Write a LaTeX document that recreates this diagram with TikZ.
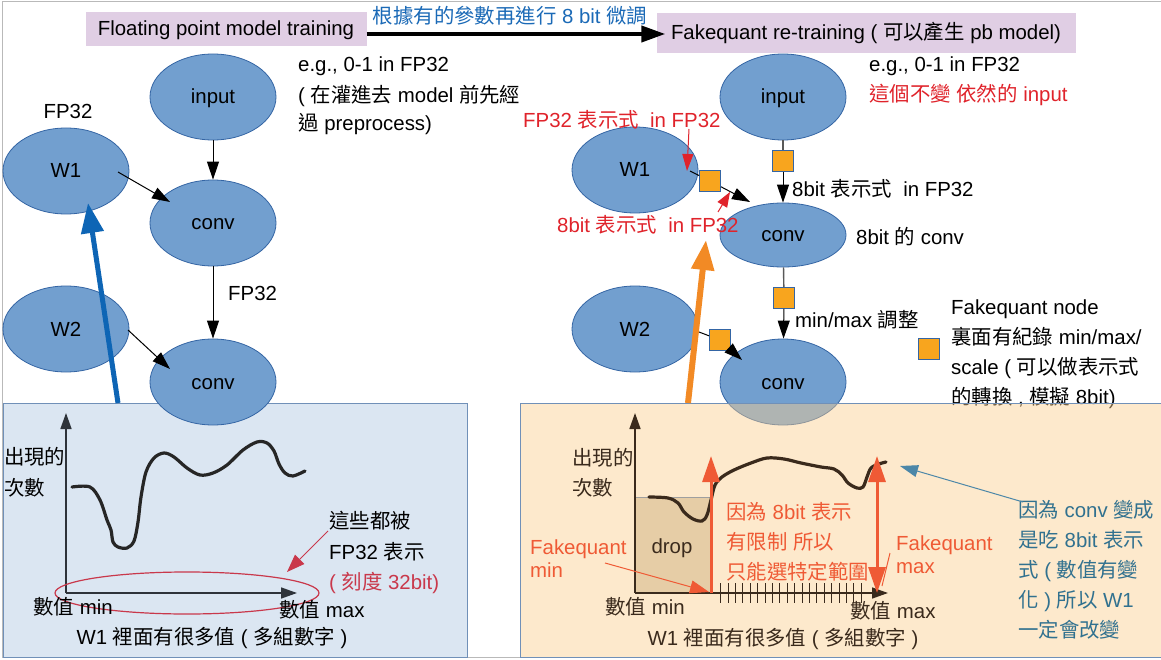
\documentclass[tikz,border=0pt]{standalone}
\usepackage{fontspec}
\setmainfont{Liberation Sans}
\newfontfamily\cjk{Noto Sans CJK TC}
\usetikzlibrary{shapes.geometric,arrows.meta,calc}
\newcommand\zh[1]{{\cjk #1}}
\newcommand\bigtxt{\fontsize{20.4}{30}\selectfont}
\definecolor{elfill}{HTML}{729FCF}
\definecolor{elbd}{HTML}{3465A4}
\definecolor{fqfill}{HTML}{F8A51E}
\definecolor{ttl}{HTML}{E0CEE4}
\definecolor{lblue}{HTML}{1B6AB7}
\definecolor{bluearr}{HTML}{0E65B5}
\definecolor{orarr}{HTML}{F28A25}
\definecolor{redtxt}{HTML}{E0232B}
\definecolor{crimson}{HTML}{C9384B}
\definecolor{coral}{HTML}{EF5A35}
\definecolor{myteal}{HTML}{31718F}
\definecolor{tealarr}{HTML}{4C87A8}
\definecolor{lpanel}{HTML}{DBE6F2}
\definecolor{rpanel}{HTML}{FBCF8F}
\definecolor{pbd}{HTML}{7090B8}
\definecolor{dropc}{HTML}{E6CDA6}
\definecolor{mybrown}{HTML}{3A2A1C}
\definecolor{axgray}{HTML}{2E333A}
\begin{document}
\begin{tikzpicture}[x=1pt,y=-1pt,
  ell/.style={ellipse, draw=elbd, fill=elfill, line width=0.8pt, minimum width=126pt, minimum height=86pt, inner sep=0pt, font=\bigtxt, text height=16pt, text depth=2pt},
  fq/.style={rectangle, draw=elbd, fill=fqfill, line width=0.8pt, minimum size=21pt, inner sep=0pt},
  txt/.style={inner sep=0pt, font=\bigtxt, text height=16pt, text depth=2pt, anchor=west},
  ctxt/.style={txt, anchor=center},
  arr/.style={line width=1pt, -{Triangle[length=18pt,width=12pt]}},
  titlebox/.style={fill=ttl, inner sep=0pt, font=\bigtxt, text height=16pt, text depth=2pt},
]
\useasboundingbox (0,0) rectangle (1161,660);
\fill[white] (0,0) rectangle (1161,660);
\draw[gray!55, line width=1pt] (2,657) -- (2,2) -- (1161,2);
\draw[gray!55, line width=1pt] (2,657) -- (1161,657);

% ---------- left panel (behind) ----------
\node[draw=pbd, fill=lpanel, line width=0.8pt, minimum width=464pt, minimum height=254pt, inner sep=0pt, anchor=north west] (lpan) at (3,403) {};

% ---------- titles ----------
\node[titlebox, minimum width=281pt, minimum height=34pt] (t1) at (226,29) {Floating point model training};
\node[titlebox, minimum width=419pt, minimum height=40pt] (t2) at (866,33) {Fakequant re-training ( \zh{可以產生} pb model)};
\draw[line width=4pt, -{Triangle[length=24pt,width=16pt]}] ($(t1.east)+(0,5)$) -- ($(t2.west)+(9,1)$);
\node[ctxt, text=lblue] (lab) at (510,17) {\zh{根據有的參數再進行} 8 bit \zh{微調}};

% ---------- left graph ----------
\node[ell] (in1) at (213,97) {input};
\node[ell] (W1) at (66,171) {W1};
\node[ell] (conv1) at (213,223) {conv};
\node[ell] (W2) at (66,329) {W2};
\node[ell] (conv2) at (213,382) {conv};
\draw[arr] (in1) -- (conv1);
\draw[arr] (conv1) -- (conv2);
\draw[arr] ($(W1.center)+(52,1)$) -- ($(conv1.center)+(-43,-21)$);
\draw[arr] ($(W2.center)+(62,1)$) -- ($(conv2.center)+(-43,-13)$);
\node[ctxt] (fp32a) at (68,112) {FP32};
\node[txt] (fp32b) at (228,293) {FP32};
\node[txt] (eg1) at (298,65) {e.g., 0-1 in FP32};
\node[txt] (eg2) at (298,96) {( \zh{在灌進去} model \zh{前先經}};
\node[txt] (eg3) at (298,124) {\zh{過} preprocess)};

% ---------- right graph ----------
\node[ell] (in2) at (783,97) {input};
\node[ell] (W1r) at (635,170) {W1};
\node[ell, minimum height=64pt] (conv1r) at (783,235) {conv};
\node[ell] (W2r) at (635,329) {W2};
\node[ell] (conv2r) at (783,382) {conv};

\node[fq] (sq1) at (710,181) {};
\node[fq] (sq2) at (783,161) {};
\node[fq] (sq3) at (784,298) {};
\node[fq] (sq4) at (720,340) {};
\draw[line width=1pt] ($(W1r.center)+(55,1)$) -- (sq1);
\draw[arr] (sq1) -- ($(conv1r.center)+(-33,-33)$);
\draw[gray!70!black, line width=1.4pt] (in2) -- (sq2);
\draw[arr] (sq2) -- (conv1r);
\draw[gray!70!black, line width=1.4pt] (conv1r) -- (sq3);
\draw[arr] (sq3) -- (conv2r);
\draw[line width=1pt] ($(W2r.center)+(64,3)$) -- (sq4);
\draw[arr] (sq4) -- ($(conv2r.center)+(-41,-22)$);

\node[txt] (eg4) at (869,65) {e.g., 0-1 in FP32};
\node[txt, text=redtxt] (eg5) at (869,95) {\zh{這個不變} \zh{依然的} input};
\node[txt, text=redtxt] (rl1) at (523,121) {FP32 \zh{表示式}~ in FP32};
\node[txt, text=redtxt] (rl2) at (557,226) {8bit \zh{表示式}~ in FP32};
\coordinate (ra1) at (689,129);
\coordinate (ra2) at (687,171);
\draw[redtxt, line width=1pt, -{Triangle[length=17pt,width=11pt]}] (ra1) -- (ra2);
\coordinate (rb1) at (718,212);
\coordinate (rb2) at (730,192);
\draw[redtxt, line width=1pt, -{Triangle[length=15pt,width=11pt]}] (rb1) -- (rb2);
\node[txt] (b8) at (792,190) {8bit \zh{表示式}~ in FP32};
\node[txt] (b8c) at (856,238) {8bit \zh{的} conv};
\node[txt] (mm) at (795,320) {min/max \zh{調整}};

\node[fq] (leg) at (929,349) {};
\node[txt] (lg1) at (951,307) {Fakequant node};
\node[txt] (lg2) at (951,337) {\zh{裏面有紀錄} min/max/};
\node[txt] (lg3) at (951,367) {scale ( \zh{可以做表示式}};
\node[txt] (lg4) at (951,397) {\zh{的轉換} , \zh{模擬} 8bit)};

% ---------- left panel contents ----------
\coordinate (lo) at (66,593);
\coordinate (lyt) at (66,413);
\coordinate (lxt) at (297,593);
\draw[axgray, line width=1.5pt, -{Triangle[length=16pt,width=11pt]}] (lo) -- (lyt);
\draw[axgray, line width=1.5pt, -{Triangle[length=16pt,width=11pt]}] (lo) -- (lxt);
\draw[black!85, line width=3.2pt, line cap=round] plot[smooth, tension=0.55] coordinates {
 (72,487) (90,487) (100,500) (107,520) (111,530) (113,542) (118,547) (127,548) (134,541) (138,522) (141,497) (146,472) (154,458) (164,453) (174,457) (187,468) (200,475) (213,473) (227,465) (243,450) (257,442) (267,443) (274,451) (279,464) (285,473) (293,476) (305,471)};
\node[ellipse, draw=crimson, line width=1.2pt, minimum width=264pt, minimum height=42pt, inner sep=0pt] (rell) at (187,593) {};
\node[txt] (ly1) at (4,457) {\zh{出現的}};
\node[txt] (ly2) at (4,488) {\zh{次數}};
\node[ctxt] (lmin) at (73,607) {\zh{數值} min};
\node[ctxt] (lmax) at (322,610) {\zh{數值} max};
\node[ctxt] (lw1) at (212,637) {W1 \zh{裡面有很多值} ( \zh{多組數字} )};
\node[txt] (ln1) at (329,521) {\zh{這些都被}};
\node[txt] (ln2) at (329,552) {FP32 \zh{表示}};
\node[txt, text=crimson] (ln3) at (329,582) {( \zh{刻度} 32bit)};
\coordinate (lna) at (328,531);
\coordinate (lnb) at (287,572);
\draw[crimson, line width=1pt, -{Triangle[length=18pt,width=13pt]}] (lna) -- (lnb);

% ---------- right panel ----------
\node[draw=pbd, fill=rpanel, fill opacity=0.45, line width=0.8pt, minimum width=641pt, minimum height=254pt, inner sep=0pt, anchor=north west] (rpan) at (520,403) {};
\node[draw=gray!75, fill=dropc, line width=1pt, minimum width=76pt, minimum height=95pt, inner sep=0pt, anchor=south west] (dropbox) at (635,593) {};
\node[ctxt, text=mybrown] (droptxt) at (672,546) {drop};
\coordinate (ro) at (635,593);
\coordinate (ryt) at (635,413);
\coordinate (rxt) at (888,593);
\draw[mybrown, line width=1.5pt, -{Triangle[length=16pt,width=11pt]}] (ro) -- (ryt);
\draw[mybrown, line width=1.5pt, -{Triangle[length=16pt,width=11pt]}] (ro) -- (rxt);
\foreach \i in {0,...,19} \draw[mybrown, line width=1pt] (720.7+7.4*\i,583) -- ++(0,20);
\draw[mybrown, line width=3.2pt, line cap=round] plot[smooth, tension=0.55] coordinates {
 (649,497) (668,498) (678,503) (684,512) (693,519) (702,521) (707,515) (711,500) (715,485) (722,477) (734,470) (751,463) (767,458) (784,459) (801,463) (821,467) (834,469) (842,475) (848,483) (857,488) (863,487) (867,477) (871,468) (879,464) (886,462)};
\coordinate (ca1) at (711,593);
\coordinate (ca2) at (711,456);
\draw[coral, line width=3pt, -{Triangle[length=26pt,width=17pt]}] (ca1) -- (ca2);
\coordinate (cb1) at (877,593);
\coordinate (cb2) at (877,456);
\draw[coral, line width=3pt, {Triangle[length=26pt,width=17pt]}-{Triangle[length=26pt,width=17pt]}] (cb1) -- (cb2);
\node[txt, text=coral] (rt1) at (726,512) {\zh{因為} 8bit \zh{表示}};
\node[txt, text=coral] (rt2) at (726,542) {\zh{有限制} \zh{所以}};
\node[txt, text=coral] (rt3) at (726,572) {\zh{只能選特定範圍}};
\node[txt, text=coral] (fmin1) at (530,547) {Fakequant};
\node[txt, text=coral] (fmin2) at (530,570) {min};
\node[txt, text=coral] (fmax1) at (896,543) {Fakequant};
\node[txt, text=coral] (fmax2) at (896,566) {max};
\coordinate (fa1) at (605,563);
\coordinate (fa2) at (709,592);
\draw[coral, line width=1pt, -{Triangle[length=19pt,width=13pt]}] (fa1) -- (fa2);
\coordinate (fb1) at (890,553);
\coordinate (fb2) at (882,586);
\draw[coral, line width=1pt] (fb1) -- (fb2);
\node[txt, text=mybrown] (ry1) at (572,458) {\zh{出現的}};
\node[txt, text=mybrown] (ry2) at (572,488) {\zh{次數}};
\node[ctxt, text=mybrown] (rmin) at (645,607) {\zh{數值} min};
\node[ctxt, text=mybrown] (rmax) at (893,611) {\zh{數值} max};
\node[ctxt, text=mybrown] (rw1) at (783,638) {W1 \zh{裡面有很多值} ( \zh{多組數字} )};
\node[txt, text=myteal] (tl1) at (1018,510) {\zh{因為} conv \zh{變成}};
\node[txt, text=myteal] (tl2) at (1018,540) {\zh{是吃} 8bit \zh{表示}};
\node[txt, text=myteal] (tl3) at (1018,570) {\zh{式} ( \zh{數值有變}};
\node[txt, text=myteal] (tl4) at (1018,600) {\zh{化} ) \zh{所以} W1};
\node[txt, text=myteal] (tl5) at (1018,630) {\zh{一定會改變}};
\coordinate (ta1) at (1023,502);
\coordinate (ta2) at (900,466);
\draw[tealarr, line width=1pt, -{Triangle[length=18pt,width=12pt]}] (ta1) -- (ta2);

% ---------- thick arrows ----------
\coordinate (bl1) at (118,403);
\coordinate (bl2) at (88,203);
\draw[bluearr, line width=5pt, -{Triangle[length=30pt,width=22pt]}] (bl1) -- (bl2);
\coordinate (or1) at (688,403);
\coordinate (or2) at (706,240);
\draw[orarr, line width=6pt, -{Triangle[length=30pt,width=22pt]}] (or1) -- (or2);
\end{tikzpicture}
\end{document}
